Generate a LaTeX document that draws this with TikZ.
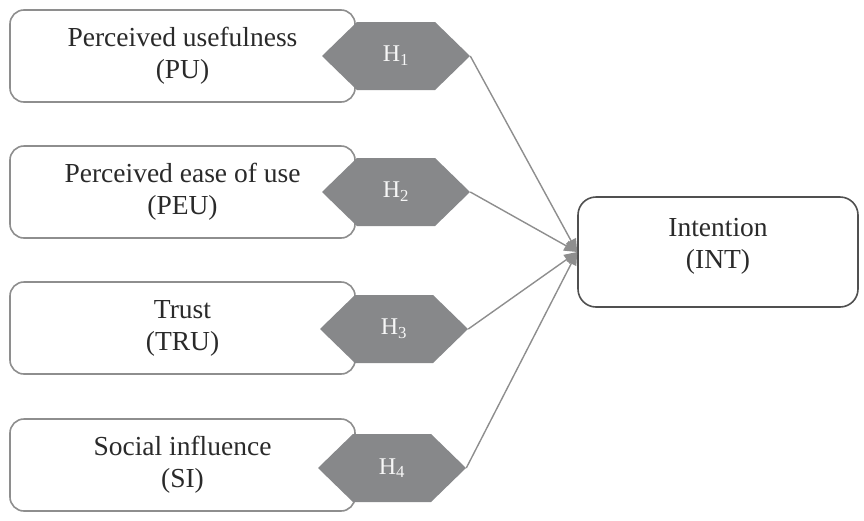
\documentclass[tikz,border=0pt]{standalone}
\usepackage{fontspec}
\setmainfont{Liberation Serif}
\usetikzlibrary{shapes.symbols,arrows.meta}
\definecolor{boxline}{HTML}{8E8E8E}
\definecolor{hexfill}{HTML}{87888A}
\definecolor{intline}{HTML}{505050}
\definecolor{txt}{HTML}{2A2A2A}
\begin{document}
\begin{tikzpicture}[x=1pt,y=-1pt,
  fac/.style={draw=boxline,line width=1.6pt,rounded corners=14pt,fill=white,
    minimum width=345pt,minimum height=92pt,align=center,text=txt,
    font=\fontsize{27.5}{32}\selectfont},
  hexa/.style={signal,signal to=west and east,signal pointer angle=88.4,
    fill=hexfill,draw=none,inner sep=0pt,minimum width=148pt,minimum height=68pt,
    text=white!94!gray,font=\fontsize{24}{27}\selectfont},
  intb/.style={draw=intline,line width=1.6pt,rounded corners=18pt,fill=white,
    minimum width=280pt,minimum height=110pt,align=center,text=txt,
    font=\fontsize{27.5}{32}\selectfont},
  conn/.style={draw=boxline,line width=1.4pt,-{Triangle[length=13pt,width=11pt]}}]
\useasboundingbox (0,0) rectangle (864,520);
\node[fac] (pu) at (182.5,56) {Perceived usefulness\\(PU)};
\node[fac] (peu) at (182.5,192) {Perceived ease of use\\(PEU)};
\node[fac] (tru) at (182.5,328) {Trust\\(TRU)};
\node[fac] (si) at (182.5,465) {Social influence\\(SI)};
\node[hexa] (h1) at (396,56) {H\textsubscript{1}};
\node[hexa] (h2) at (396,192) {H\textsubscript{2}};
\node[hexa] (h3) at (394,329) {H\textsubscript{3}};
\node[hexa] (h4) at (392,468) {H\textsubscript{4}};
\node[intb] (int) at (718,252) {\raisebox{6pt}[\height][\depth]{\begin{tabular}{@{}c@{}}Intention\\(INT)\end{tabular}}};
\foreach \h in {h1,h2,h3,h4}
  \draw[conn] (\h.east) -- (int.west);
\end{tikzpicture}
\end{document}
